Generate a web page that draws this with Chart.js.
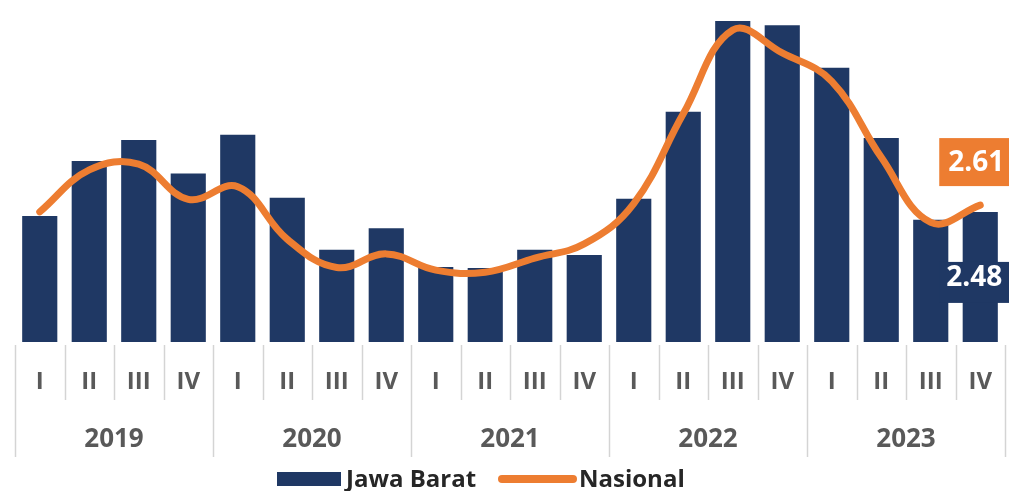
<!DOCTYPE html>
<html>
<head>
<meta charset="utf-8">
<script src="https://cdn.jsdelivr.net/npm/chart.js@4/dist/chart.umd.min.js"></script>
<style>
  html, body { margin: 0; padding: 0; background: #ffffff; }
  #wrap { width: 1009px; height: 491px; position: relative; }
</style>
</head>
<body>
<div id="wrap"><canvas id="c" width="1009" height="491"></canvas></div>
<script>
// Quarterly inflation (y-on-y, %), 2019 Q1 – 2023 Q4
const years = ['2019', '2020', '2021', '2022', '2023'];
const quarters = ['I', 'II', 'III', 'IV'];
const categories = ['2019 I','2019 II','2019 III','2019 IV','2020 I','2020 II','2020 III','2020 IV',
                    '2021 I','2021 II','2021 III','2021 IV','2022 I','2022 II','2022 III','2022 IV',
                    '2023 I','2023 II','2023 III','2023 IV'];
const jawaBarat = [2.40, 3.45, 3.85, 3.21, 3.95, 2.75, 1.76, 2.17, 1.43, 1.41,
                   1.76, 1.66, 2.73, 4.39, 6.12, 6.04, 5.23, 3.89, 2.33, 2.48];
const nasional  = [2.48, 3.28, 3.39, 2.72, 2.96, 1.96, 1.42, 1.68, 1.37, 1.33,
                   1.60, 1.87, 2.64, 4.35, 5.95, 5.51, 4.97, 3.52, 2.28, 2.61];

const NAVY = '#1f3864';
const ORANGE = '#ed7d31';
const FONT = '"Open Sans", "Liberation Sans", sans-serif';

// Two-level category axis (quarters above years) with separator lines
const axisPlugin = {
  id: 'twoLevelAxis',
  afterDraw(chart) {
    const ctx = chart.ctx;
    const x = chart.scales.x;
    const area = chart.chartArea;
    const step = (area.right - area.left) / categories.length;
    ctx.save();
    ctx.strokeStyle = '#d4d4d4';
    ctx.lineWidth = 1.5;
    for (let i = 0; i <= categories.length; i++) {
      const px = Math.round(area.left + i * step) + 0.5;
      const isYear = i % 4 === 0;
      ctx.beginPath();
      ctx.moveTo(px, area.bottom + 3);
      ctx.lineTo(px, isYear ? 457 : 400);
      ctx.stroke();
    }
    ctx.fillStyle = '#595959';
    ctx.textAlign = 'center';
    ctx.textBaseline = 'middle';
    ctx.font = 'bold 24px ' + FONT;
    categories.forEach((c, i) => {
      ctx.fillText(quarters[i % 4], x.getPixelForValue(i), 382);
    });
    ctx.font = 'bold 26px ' + FONT;
    years.forEach((y, k) => {
      const cx = (x.getPixelForValue(k * 4) + x.getPixelForValue(k * 4 + 3)) / 2;
      ctx.fillText(y, cx, 440);
    });

    // Legend
    const ly = 479;
    ctx.fillStyle = NAVY;
    ctx.fillRect(277, ly - 7, 64, 14);
    ctx.fillStyle = '#262626';
    ctx.textAlign = 'left';
    ctx.font = 'bold 24px ' + FONT;
    ctx.fillText('Jawa Barat', 346, ly + 1);
    ctx.strokeStyle = ORANGE;
    ctx.lineWidth = 8;
    ctx.lineCap = 'round';
    ctx.beginPath();
    ctx.moveTo(502, ly);
    ctx.lineTo(573, ly);
    ctx.stroke();
    ctx.fillText('Nasional', 579, ly + 1);
    ctx.restore();
  }
};

// Value tags on the last quarter
const tagPlugin = {
  id: 'lastValueTags',
  afterDatasetsDraw(chart) {
    const ctx = chart.ctx;
    const last = categories.length - 1;
    const barEl = chart.getDatasetMeta(0).data[last];
    const lineEl = chart.getDatasetMeta(1).data[last];
    ctx.save();
    ctx.font = 'bold 28px ' + FONT;
    ctx.textAlign = 'center';
    ctx.textBaseline = 'middle';
    // Nasional tag above its point
    const ny = lineEl.y - 43;
    ctx.fillStyle = ORANGE;
    ctx.fillRect(lineEl.x - 41, ny - 24, 82, 48);
    ctx.fillStyle = '#ffffff';
    ctx.fillText(nasional[last].toFixed(2), lineEl.x - 4, ny + 1);
    // Jawa Barat tag inside its bar
    const by = barEl.y + 70;
    ctx.fillStyle = NAVY;
    ctx.fillRect(barEl.x - 41, by - 20, 82, 41);
    ctx.fillStyle = '#ffffff';
    ctx.fillText(jawaBarat[last].toFixed(2), barEl.x - 6, by - 4);
    ctx.restore();
  }
};

new Chart(document.getElementById('c'), {
  data: {
    labels: categories,
    datasets: [
      {
        type: 'bar',
        label: 'Jawa Barat',
        data: jawaBarat,
        backgroundColor: NAVY,
        barPercentage: 0.71,
        categoryPercentage: 1.0,
        order: 2
      },
      {
        type: 'line',
        label: 'Nasional',
        data: nasional,
        borderColor: ORANGE,
        borderWidth: 7,
        tension: 0.4,
        pointRadius: 0,
        borderCapStyle: 'round',
        borderJoinStyle: 'round',
        order: 1
      }
    ]
  },
  options: {
    responsive: false,
    animation: false,
    layout: { padding: { left: 15, right: 4, top: 0, bottom: 149 } },
    plugins: { legend: { display: false }, tooltip: { enabled: false } },
    scales: {
      x: { display: false, offset: true, grid: { display: false } },
      y: { display: false, min: 0, max: 6.52 }
    }
  },
  plugins: [axisPlugin, tagPlugin]
});
</script>
</body>
</html>
